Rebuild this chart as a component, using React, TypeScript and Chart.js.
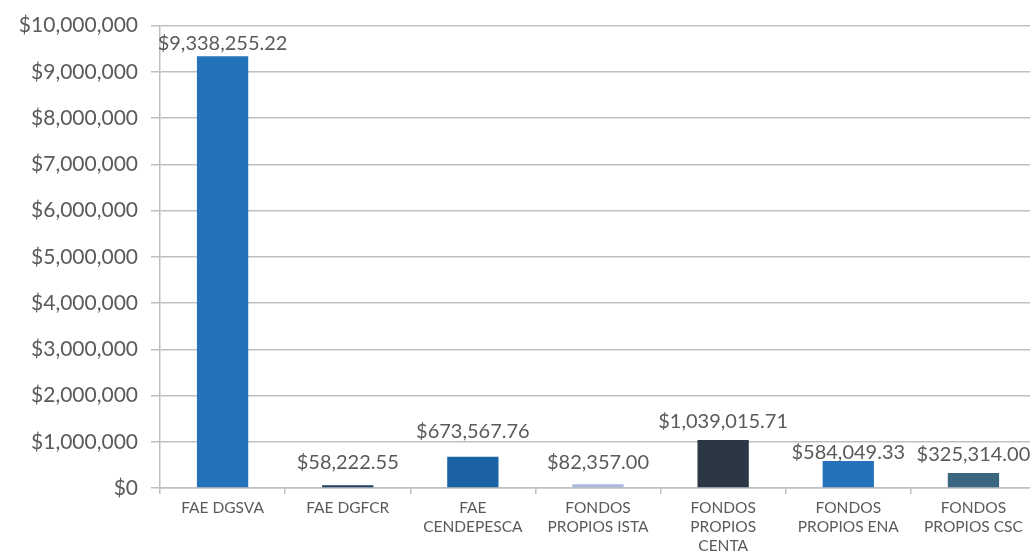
import React, { useEffect, useRef } from "react";
import { Chart, registerables } from "chart.js";

Chart.register(...registerables);

const categories: string[][] = [
  ["FAE DGSVA"],
  ["FAE DGFCR"],
  ["FAE", "CENDEPESCA"],
  ["FONDOS", "PROPIOS ISTA"],
  ["FONDOS", "PROPIOS", "CENTA"],
  ["FONDOS", "PROPIOS ENA"],
  ["FONDOS", "PROPIOS CSC"],
];
const amounts: number[] = [9338255.22, 58222.55, 673567.76, 82357.0, 1039015.71, 584049.33, 325314.0];
const barColors: string[] = ["#2473BA", "#1E3F60", "#1B63A5", "#AAB8DE", "#2B3744", "#2473BA", "#3B6680"];
const yTickMax = 10000000;
const yTickStep = 1000000;
// vertical lift (px) of each value label's centre above its bar top
const labelLift: number[] = [13, 23, 25, 22, 18, 8, 18];

const TEXT = "#5a5a5a";
const GRID = "#BFBFBF";
const FONT = "Lato, 'Open Sans', sans-serif";

const fmtMoney = (v: number, dec: number) =>
  "$" + v.toLocaleString("en-US", { minimumFractionDigits: dec, maximumFractionDigits: dec });

const valueLabels = {
  id: "valueLabels",
  afterDatasetsDraw(chart: any) {
    const ctx = chart.ctx;
    const meta = chart.getDatasetMeta(0);
    ctx.save();
    ctx.fillStyle = TEXT;
    ctx.font = `20px ${FONT}`;
    ctx.textAlign = "center";
    ctx.textBaseline = "middle";
    meta.data.forEach((bar: any, i: number) => {
      ctx.fillText(fmtMoney(amounts[i], 2), bar.x, bar.y - labelLift[i]);
    });
    ctx.restore();
  },
};

export default function App() {
  const ref = useRef<HTMLCanvasElement>(null);
  useEffect(() => {
    const chart = new Chart(ref.current!, {
      type: "bar",
      data: {
        labels: categories,
        datasets: [
          {
            data: amounts,
            backgroundColor: barColors,
            barPercentage: 0.41,
            categoryPercentage: 1,
          },
        ],
      },
      options: {
        responsive: false,
        animation: false,
        layout: { padding: { top: 23, right: 9, left: 0, bottom: 0 } },
        plugins: { legend: { display: false }, tooltip: { enabled: false } },
        scales: {
          x: {
            grid: { drawOnChartArea: false, drawTicks: true, tickLength: 6, color: GRID, lineWidth: 1.5 },
            border: { color: GRID, width: 1.5 },
            ticks: {
              color: TEXT,
              font: { family: FONT, size: 15.5, lineHeight: 1.23 },
              padding: 4,
              maxRotation: 0,
              autoSkip: false,
            },
            afterFit: (s: any) => {
              s.height = 66;
            },
          },
          y: {
            min: 0,
            max: yTickMax,
            grid: { color: GRID, lineWidth: 1.5, tickLength: 9 },
            border: { color: GRID, width: 1.5 },
            ticks: {
              stepSize: yTickStep,
              color: TEXT,
              font: { family: FONT, size: 21 },
              padding: 13,
              callback: (v: any) => fmtMoney(Number(v), 0),
            },
            afterFit: (s: any) => {
              s.width = 160;
            },
          },
        },
      },
      plugins: [valueLabels],
    });
    return () => chart.destroy();
  }, []);
  return (
    <div style={{ position: "absolute", left: 0, top: 0, width: 1030, height: 554, overflow: "hidden", background: "#fff" }}>
      <canvas ref={ref} width={1045} height={554} style={{ display: "block" }} />
    </div>
  );
}
